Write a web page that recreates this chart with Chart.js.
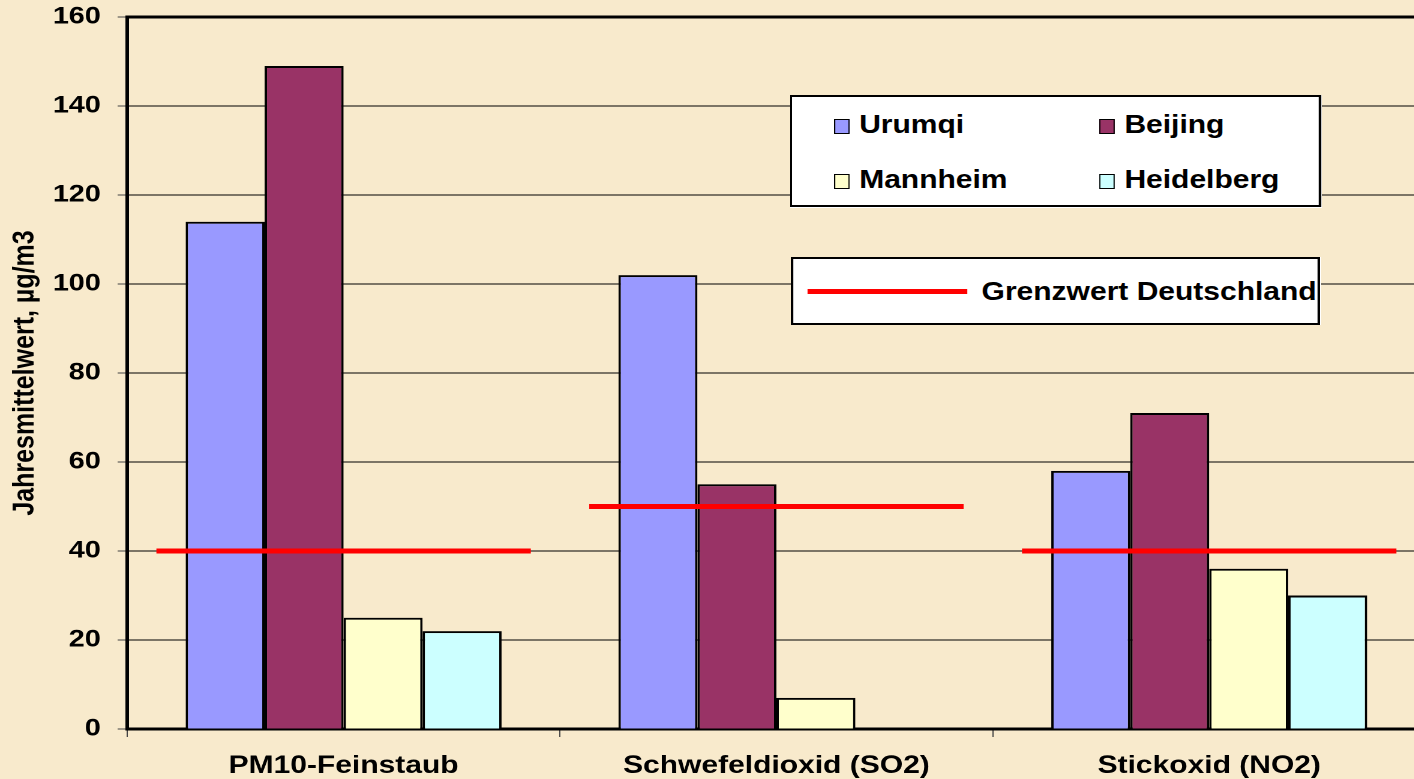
<!DOCTYPE html>
<html>
<head>
<meta charset="utf-8">
<script src="https://cdn.jsdelivr.net/npm/chart.js@4"></script>
<style>
    html, body { margin: 0; padding: 0; background: #F8EACC; overflow: hidden; width: 1414px; height: 779px; }
    /* die Vorlage ist horizontal gestreckt, daher scaleX */
    #wrap { position: absolute; left: 0; top: 0; width: 1200px; height: 779px; transform: scaleX(1.2); transform-origin: 0 0; }
    #chartLuft { position: absolute; left: 0; top: 0; }
    .legendBox { position: absolute; background: #fff; border: 2px solid #000; box-sizing: border-box; font: bold 25px "Liberation Sans", Arial, sans-serif; color: #000; }
    .item { position: absolute; white-space: nowrap; line-height: 30px; }
    .sw { display: inline-block; width: 11px; height: 13px; border: 1.5px solid #000; vertical-align: -1px; margin-right: 8px; }
    .redline { position: absolute; height: 5px; background: #FF0000; }
</style>
</head>
<body>
<div id="wrap">
    <canvas id="chartLuft" width="1200" height="779"></canvas>
    <div class="legendBox" style="left:658px; top:95px; width:443px; height:112px;">
        <div class="item" style="left:35px; top:12px;"><span class="sw" style="background:#9999FF"></span>Urumqi</div>
        <div class="item" style="left:256px; top:12px;"><span class="sw" style="background:#993366"></span>Beijing</div>
        <div class="item" style="left:35px; top:67px;"><span class="sw" style="background:#FFFFCC"></span>Mannheim</div>
        <div class="item" style="left:256px; top:67px;"><span class="sw" style="background:#CCFFFF"></span>Heidelberg</div>
    </div>
    <div class="legendBox" style="left:659px; top:257px; width:441px; height:68px;">
        <div class="redline" style="left:12px; top:30px; width:133px;"></div>
        <div class="item" style="left:157px; top:17px;">Grenzwert Deutschland</div>
    </div>
</div>
<script>
// Jahresmittelwerte in µg/m3
const categories = ['PM10-Feinstaub', 'Schwefeldioxid (SO2)', 'Stickoxid (NO2)'];
const urumqi = [114, 102, 58];
const beijing = [149, 55, 71];
const mannheim = [25, 7, 36];
const heidelberg = [22, null, 30];
const grenzwert = [40, 50, 40];
const yMin = 0, yMax = 160, yStep = 20;

const FONT = '"Liberation Sans", Arial, sans-serif';

// oberer Rahmen der Zeichenfläche
const frameTop = {
    id: 'frameTop',
    afterDraw(chart) {
        const { ctx, chartArea: a } = chart;
        ctx.save();
        ctx.strokeStyle = '#000';
        ctx.lineWidth = 3;
        ctx.beginPath();
        ctx.moveTo(a.left, a.top);
        ctx.lineTo(a.right, a.top);
        ctx.lineTo(a.right, a.bottom);
        ctx.stroke();
        ctx.restore();
    }
};

const bar = (label, data, color) => ({
    type: 'bar', label, data,
    backgroundColor: color,
    borderColor: '#000',
    borderWidth: 2,
    order: 1
});

new Chart(document.getElementById('chartLuft'), {
    type: 'bar',
    data: {
        labels: categories,
        datasets: [
            bar('Urumqi', urumqi, '#9999FF'),
            bar('Beijing', beijing, '#993366'),
            bar('Mannheim', mannheim, '#FFFFCC'),
            bar('Heidelberg', heidelberg, '#CCFFFF'),
            {
                type: 'line',
                label: 'Grenzwert Deutschland',
                data: grenzwert,
                showLine: false,
                pointStyle: 'line',
                pointRadius: 156,
                pointHoverRadius: 156,
                pointBorderWidth: 5,
                pointHoverBorderWidth: 5,
                pointBorderColor: '#FF0000',
                pointBackgroundColor: '#FF0000',
                clip: false,
                order: 0
            }
        ]
    },
    options: {
        responsive: false,
        maintainAspectRatio: false,
        devicePixelRatio: 2,
        animation: false,
        datasets: { bar: { categoryPercentage: 0.73, barPercentage: 1 } },
        layout: { autoPadding: false, padding: { top: 17, right: 12, left: 0, bottom: 0 } },
        plugins: {
            legend: { display: false },
            tooltip: { enabled: false }
        },
        scales: {
            x: {
                afterFit: s => { s.height = 50; s.paddingLeft = 0; s.paddingRight = 0; },
                border: { color: '#000', width: 3 },
                grid: { offset: true, drawOnChartArea: false, tickLength: 8, tickColor: '#444', lineWidth: 1 },
                ticks: { color: '#000', padding: 14, font: { family: FONT, size: 25, weight: 'bold' } }
            },
            y: {
                min: yMin, max: yMax,
                afterFit: s => { s.width = 106; s.paddingTop = 0; s.paddingBottom = 0; },
                border: { color: '#000', width: 3 },
                grid: { color: '#000', lineWidth: 1, tickLength: 8, tickColor: '#444' },
                ticks: { stepSize: yStep, color: '#000', padding: 14, font: { family: FONT, size: 24, weight: 'bold' } },
                title: {
                    display: true,
                    text: 'Jahresmittelwert, µg/m3',
                    color: '#000',
                    padding: 6,
                    font: { family: FONT, size: 25, weight: 'bold' }
                }
            }
        }
    },
    plugins: [frameTop]
});
</script>
</body>
</html>
